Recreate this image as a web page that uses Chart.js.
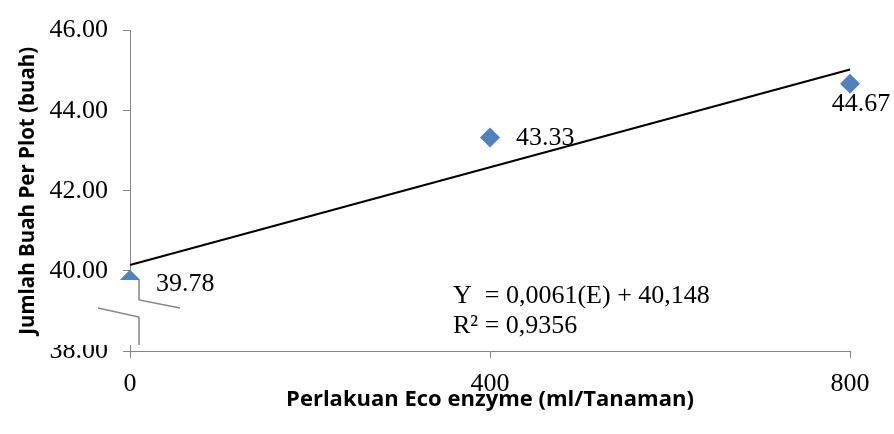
<!DOCTYPE html>
<html lang="id">
<head>
  <meta charset="UTF-8">
  <title>Jumlah Buah Per Plot</title>
  <script src="https://cdn.jsdelivr.net/npm/chart.js"></script>
  <style>
    body { margin: 0; background: #fff; }
  </style>
</head>
<body>
  <canvas id="chart" width="894" height="434"></canvas>
  <script>
    // Data
    const dosis = [0, 400, 800];
    const jumlahBuah = [39.78, 43.33, 44.67];
    // Linear trendline Y = 0,0061(E) + 40,148 at both ends
    const trendX = [0, 800];
    const trendY = [40.148, 45.028];
    const yTicks = [38, 40, 42, 44, 46];
    const xTicks = [0, 400, 800];
    const equationLines = ['Y  = 0,0061(E) + 40,148', 'R\u00B2 = 0,9356'];

    const axisGray = '#868686';
    const serif = '"Liberation Serif", "Times New Roman", serif';

    // Extra drawing: axis break, point labels and the regression text
    const extras = {
      id: 'extras',
      afterDraw(chart) {
        const ctx = chart.ctx;
        const xs = chart.scales.x;
        const x0 = xs.getPixelForValue(0);
        ctx.save();

        // white gap for the axis break
        ctx.fillStyle = '#fff';
        ctx.fillRect(40, 280, x0 + 50 - 40, 65);

        ctx.strokeStyle = axisGray;
        ctx.lineWidth = 1.5;
        ctx.beginPath();
        ctx.moveTo(x0 + 9, 280); ctx.lineTo(x0 + 9, 300); ctx.lineTo(x0 + 50, 308);
        ctx.moveTo(x0 - 32, 308); ctx.lineTo(x0 + 9, 317); ctx.lineTo(x0 + 9, 345);
        ctx.stroke();

        // point labels
        ctx.fillStyle = '#000';
        ctx.font = '26px ' + serif;
        ctx.textBaseline = 'middle';
        const pts = chart.getDatasetMeta(0).data;
        pts.forEach((p, i) => {
          const txt = jumlahBuah[i].toFixed(2);
          if (i === pts.length - 1) {
            ctx.textAlign = 'center';
            ctx.fillText(txt, p.x + 11, p.y + 20);
          } else {
            ctx.textAlign = 'left';
            ctx.fillText(txt, p.x + 26, p.y + (i === 0 ? 4 : 1));
          }
        });

        // regression equation
        ctx.textAlign = 'left';
        equationLines.forEach((line, i) => {
          ctx.fillText(line, 453, 296 + i * 30);
        });
        ctx.restore();
      }
    };

    new Chart(document.getElementById('chart'), {
      type: 'scatter',
      data: {
        datasets: [
          {
            label: 'Jumlah Buah',
            data: dosis.map((x, i) => ({ x: x, y: jumlahBuah[i] })),
            pointStyle: 'rectRot',
            pointRadius: 10,
            pointHoverRadius: 10,
            backgroundColor: '#4F81BD',
            borderColor: '#4F81BD',
            borderWidth: 0,
            clip: false
          },
          {
            type: 'line',
            label: 'Linear',
            data: trendX.map((x, i) => ({ x: x, y: trendY[i] })),
            borderColor: '#000',
            borderWidth: 2,
            pointRadius: 0,
            fill: false,
            clip: false
          }
        ]
      },
      options: {
        responsive: false,
        animation: false,
        events: [],
        layout: { padding: { top: 26, right: 44, left: 0, bottom: 0 } },
        plugins: {
          legend: { display: false },
          tooltip: { enabled: false }
        },
        scales: {
          x: {
            type: 'linear',
            min: 0,
            max: 800,
            afterBuildTicks: s => { s.ticks = xTicks.map(v => ({ value: v })); },
            afterFit: s => { s.height = 434 - 351; },
            border: { color: axisGray, width: 1 },
            grid: { drawOnChartArea: false, drawTicks: true, tickLength: 7, color: axisGray },
            ticks: { color: '#000', padding: 11, font: { family: serif, size: 26 } },
            title: {
              display: true,
              text: 'Perlakuan Eco enzyme (ml/Tanaman)',
              color: '#000',
              padding: { top: 0, bottom: 21 },
              font: { family: '"Open Sans", sans-serif', size: 22, weight: 'bold' }
            }
          },
          y: {
            min: 38,
            max: 46,
            afterBuildTicks: s => { s.ticks = yTicks.map(v => ({ value: v })); },
            afterFit: s => { s.width = 130; },
            border: { color: axisGray, width: 1 },
            grid: { drawOnChartArea: false, drawTicks: true, tickLength: 7, color: axisGray },
            ticks: {
              color: '#000',
              padding: 15,
              font: { family: serif, size: 26 },
              callback: v => v.toFixed(2)
            },
            title: {
              display: true,
              text: 'Jumlah Buah Per Plot (buah)',
              color: '#000',
              padding: { top: 16, bottom: 0 },
              font: { family: '"Open Sans", sans-serif', size: 20.5, weight: 'bold' }
            }
          }
        }
      },
      plugins: [extras]
    });
  </script>
</body>
</html>
